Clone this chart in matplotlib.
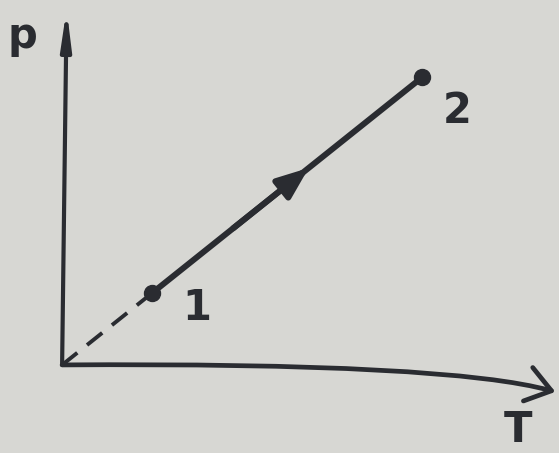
import matplotlib.pyplot as plt
from matplotlib.patches import FancyArrowPatch
from matplotlib.path import Path

# state points of the process (arbitrary units)
T_states = [1.0, 4.0]
p_states = [0.8, 3.2]
state_labels = ["1", "2"]

ink = "#2a2c31"
paper = "#d7d7d3"

fig = plt.figure(figsize=(5.59, 4.53), dpi=100, facecolor=paper)
ax = fig.add_axes([0, 0, 1, 1])
ax.set_facecolor(paper)
ax.set_xlim(-0.69, 5.52)
ax.set_ylim(-0.98, 4.06)
ax.axis("off")

# axes: p straight up, T slightly bent down at the end (photo distortion)
ax.annotate("", xy=(0.05, 3.96), xytext=(0, 0),
            arrowprops=dict(arrowstyle="-|>,head_length=2.2,head_width=0.3",
                            lw=3.0, color=ink, shrinkA=0, shrinkB=0))
t_axis = Path([(0, 0), (4.3, 0.03), (5.48, -0.3)],
              [Path.MOVETO, Path.CURVE3, Path.CURVE3])
ax.add_patch(FancyArrowPatch(path=t_axis, arrowstyle="->,head_length=7,head_width=5",
                             lw=3.4, color=ink, mutation_scale=2.5))

# dashed extension back to the origin
ax.plot([0, T_states[0]], [0, p_states[0]], color=ink, lw=2.8,
        dashes=(5, 3.2))

# process 1 -> 2
ax.plot(T_states, p_states, color=ink, lw=4.3, solid_capstyle="round")
ax.plot(T_states, p_states, "o", color=ink, ms=11.5)

frac = 0.58
tip = (T_states[0] + frac * (T_states[1] - T_states[0]),
       p_states[0] + frac * (p_states[1] - p_states[0]))
back = (T_states[0] + 0.3 * (T_states[1] - T_states[0]),
        p_states[0] + 0.3 * (p_states[1] - p_states[0]))
ax.annotate("", xy=tip, xytext=back,
            arrowprops=dict(arrowstyle="-|>,head_length=1.9,head_width=0.75",
                            lw=4.3, color=ink, shrinkA=0, shrinkB=0))

fs = 30
ax.text(T_states[0] + 0.5, p_states[0] - 0.17, state_labels[0], fontsize=fs,
        fontweight="heavy", color=ink, ha="center", va="center")
ax.text(T_states[1] + 0.39, p_states[1] - 0.37, state_labels[1], fontsize=fs,
        fontweight="heavy", color=ink, ha="center", va="center")
ax.text(-0.44, 3.66, "p", fontsize=fs, fontweight="heavy", color=ink,
        ha="center", va="center")
ax.text(5.06, -0.72, "T", fontsize=fs, fontweight="heavy", color=ink,
        ha="center", va="center")

fig.savefig("out.png", dpi=100, facecolor=paper)
